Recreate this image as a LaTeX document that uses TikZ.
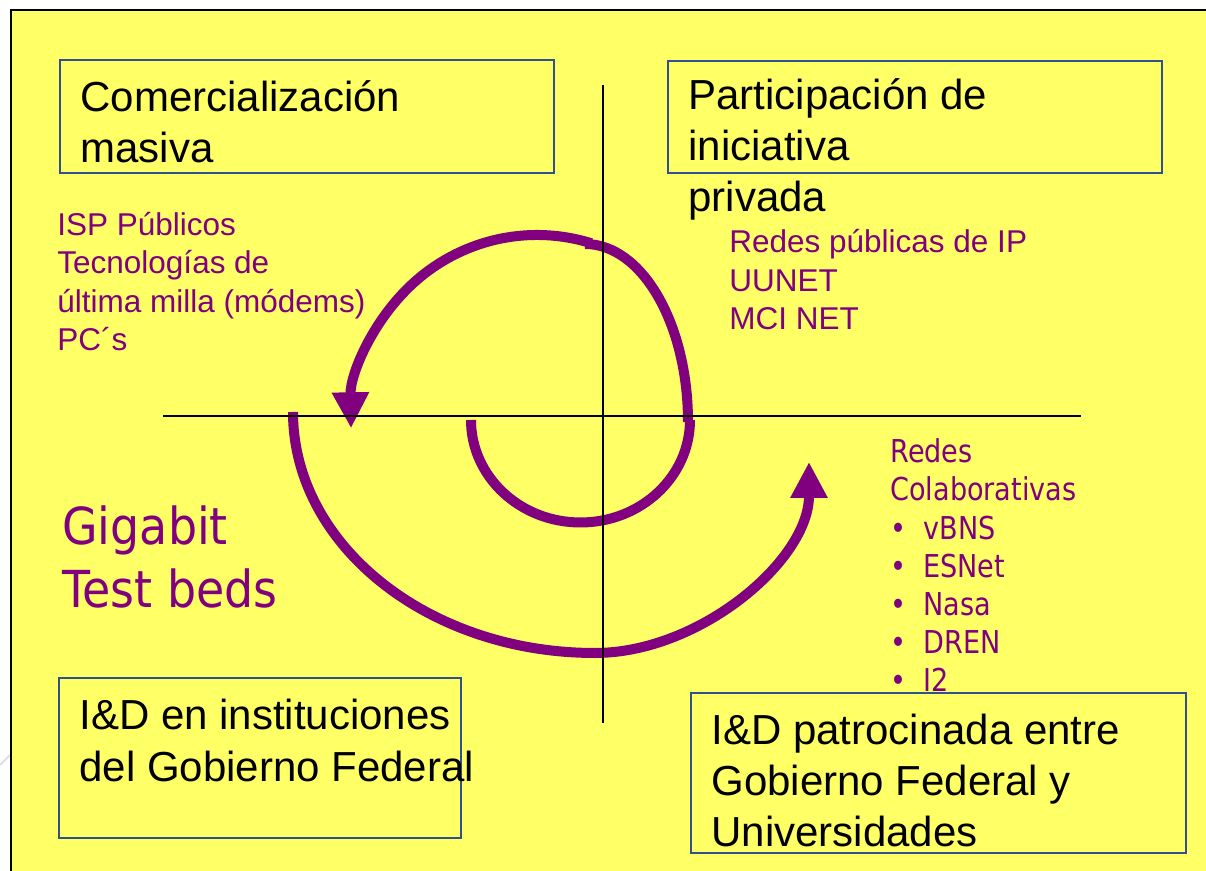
\documentclass[tikz,border=0pt]{standalone}
\usepackage{fontspec}
\usepackage{xcolor}
\usetikzlibrary{arrows.meta}
\setmainfont{Liberation Sans}
\newfontfamily\tahomalike[FakeStretch=0.86]{DejaVu Sans}
\newfontfamily\tahomawide[FakeStretch=0.9]{DejaVu Sans}

\definecolor{slideyellow}{RGB}{255,255,102}
\definecolor{slidepurple}{RGB}{128,0,128}
\definecolor{boxblue}{RGB}{47,82,143}

\newcommand{\colitem}[1]{\makebox[16.5pt][l]{\textbullet}#1}

\begin{document}
\begin{tikzpicture}[x=0.5pt, y=0.5pt,
	box/.style={shape=rectangle, draw=boxblue, fill=slideyellow, line width=0.75pt, inner sep=0pt},
	bigtext/.style={anchor=base west, inner sep=0pt, align=left, font=\fontsize{21}{25.5}\selectfont},
	smalltext/.style={anchor=base west, inner sep=0pt, align=left, text=slidepurple, font=\fontsize{15.75}{19.25}\selectfont},
	spiral/.style={draw=slidepurple, line width=5pt},
	tip/.style={-{Triangle[length=18pt, width=17.5pt]}}]
	\useasboundingbox (0, 0) rectangle (1206, 871);
	% Slide background and frame:
	\draw[gray!25, line width=1pt] (0, 106) -- (10, 116);
	\draw[fill=slideyellow, line width=0.9pt] (11, -20) rectangle (1230, 861);
	% Boxes:
	\node[box, minimum width=247pt, minimum height=56.5pt](comBox) at (307, 754.5){};
	\node[box, minimum width=247pt, minimum height=56pt](partBox) at (915, 754){};
	\node[box, minimum width=201pt, minimum height=80pt](instBox) at (260, 113){};
	\node[box, minimum width=247.5pt, minimum height=80pt](patBox) at (938.5, 98){};
	% Spiral arrows:
	\draw[spiral] (471, 451) arc[start angle=180, end angle=360, x radius=109.5, y radius=102.5];
	\draw[spiral] (688, 449) arc[start angle=0, end angle=90, x radius=103, y radius=178];
	\draw[spiral, tip] (591.4, 627.7) arc[start angle=73, end angle=181, x radius=186, y radius=190];
	\draw[spiral, tip] (293, 459) .. controls (293, 326) and (428, 218) .. (595, 218)
		.. controls (700, 218) and (809, 311) .. (809, 409);
	% Axes:
	\coordinate (axL) at (163, 455);
	\coordinate (axR) at (1081, 455);
	\coordinate (axT) at (603, 786);
	\coordinate (axB) at (603, 148);
	\draw[line width=0.65pt] (axL) -- (axR);
	\draw[line width=0.65pt] (axT) -- (axB);
	% Texts (placed at the baseline of their last line):
	\node[bigtext](comText) at (80, 708){Comercialización\\masiva};
	\node[bigtext](partText) at (688, 659){Participación de\\iniciativa\\privada};
	\node[bigtext, font=\fontsize{21}{26}\selectfont](instText) at (79, 89){I\&D en instituciones\\del Gobierno Federal};
	\node[bigtext](patText) at (711, 24){I\&D patrocinada entre\\Gobierno Federal y\\Universidades};
	\node[smalltext](ispText) at (57, 520){ISP Públicos\\Tecnologías de\\última milla (módems)\\PC´s};
	\node[smalltext](ipText) at (729, 541){Redes públicas de IP\\UUNET\\MCI NET};
	\node[smalltext, font=\tahomawide\fontsize{25.5}{31.5}\selectfont](gigaText) at (62, 263){Gigabit\\Test beds};
	\node[smalltext, font=\tahomalike\fontsize{15.75}{19.1}\selectfont](colabText) at (890, 179){Redes\\Colaborativas\\\colitem{vBNS}\\\colitem{ESNet}\\\colitem{Nasa}\\\colitem{DREN}\\\colitem{I2}};
\end{tikzpicture}
\end{document}
